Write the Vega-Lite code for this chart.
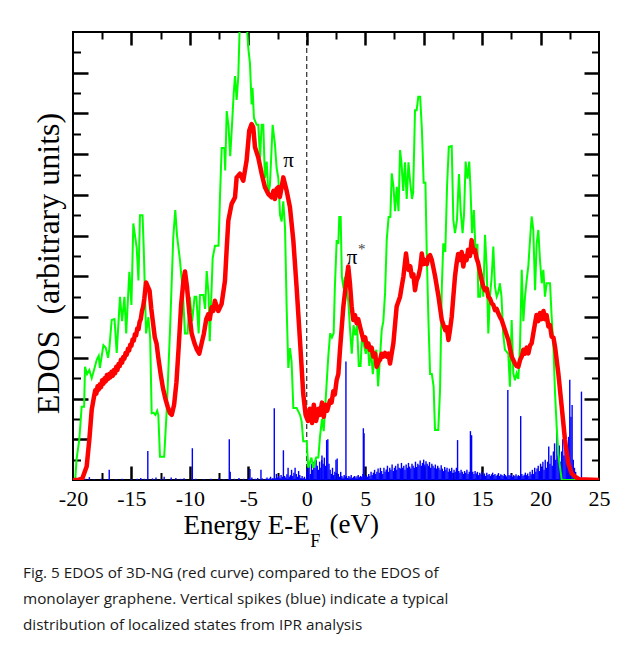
{
  "$schema": "https://vega.github.io/schema/vega-lite/v6.json",
  "width": 526,
  "height": 448,
  "autosize": {"type": "none"},
  "padding": {"left": 73, "top": 32, "right": 27, "bottom": 169},
  "background": "white",
  "config": {
    "view": {"stroke": "black", "strokeWidth": 2},
    "axis": {"grid": false, "domain": false, "tickColor": "black", "labelFont": "Liberation Serif", "titleFont": "Liberation Serif", "labelColor": "black", "titleColor": "black", "titleFontWeight": "normal"}
  },
  "title": {
    "text": ["Fig. 5 EDOS of 3D-NG (red curve) compared to the EDOS of", "monolayer graphene. Vertical spikes (blue) indicate a typical", "distribution of localized states from IPR analysis"],
    "orient": "bottom", "anchor": "start", "frame": "group", "font": "Open Sans", "fontSize": 15.3, "fontWeight": "normal", "color": "#1a1a1a", "lineHeight": 26, "baseline": "top", "dx": -50, "offset": 15
  },
  "datasets": {
    "green": [
      {"x":-20.0,"y":0},{"x":-19.8,"y":0.05},{"x":-19.7,"y":0.5},{"x":-19.46,"y":1.0},{"x":-19.26,"y":1.8},{"x":-19.05,"y":1.8},{"x":-18.97,"y":2.78},{"x":-18.8,"y":2.6},{"x":-18.6,"y":2.7},{"x":-18.4,"y":2.5},{"x":-18.2,"y":2.7},{"x":-17.97,"y":2.95},{"x":-17.8,"y":3.05},{"x":-17.7,"y":2.75},{"x":-17.4,"y":3.31},{"x":-17.2,"y":3.25},{"x":-17.0,"y":3.0},{"x":-16.9,"y":3.2},{"x":-16.69,"y":3.93},{"x":-16.45,"y":3.95},{"x":-16.26,"y":3.12},{"x":-15.98,"y":4.5},{"x":-15.8,"y":3.9},{"x":-15.6,"y":4.5},{"x":-15.45,"y":3.6},{"x":-15.18,"y":5.11},{"x":-15.0,"y":4.3},{"x":-14.84,"y":6.3},{"x":-14.55,"y":5.7},{"x":-14.4,"y":4.9},{"x":-14.27,"y":6.5},{"x":-14.05,"y":6.5},{"x":-13.95,"y":5.7},{"x":-13.75,"y":3.6},{"x":-13.55,"y":4.0},{"x":-13.4,"y":3.5},{"x":-13.27,"y":1.64},{"x":-13.1,"y":1.65},{"x":-12.95,"y":1.6},{"x":-12.8,"y":1.7},{"x":-12.7,"y":1.6},{"x":-12.56,"y":0.57},{"x":-12.2,"y":0.57},{"x":-11.98,"y":1.72},{"x":-11.7,"y":3.68},{"x":-11.42,"y":5.97},{"x":-11.25,"y":6.63},{"x":-11.1,"y":6.0},{"x":-10.85,"y":5.4},{"x":-10.6,"y":4.6},{"x":-10.42,"y":3.6},{"x":-10.2,"y":3.6},{"x":-10.0,"y":4.5},{"x":-9.8,"y":3.9},{"x":-9.6,"y":4.5},{"x":-9.45,"y":4.5},{"x":-9.25,"y":3.6},{"x":-9.14,"y":4.54},{"x":-8.85,"y":4.54},{"x":-8.7,"y":4.2},{"x":-8.56,"y":5.13},{"x":-8.4,"y":4.54},{"x":-8.3,"y":3.41},{"x":-8.05,"y":5.45},{"x":-7.85,"y":5.75},{"x":-7.55,"y":5.75},{"x":-7.42,"y":7.0},{"x":-7.28,"y":8.15},{"x":-7.05,"y":8.15},{"x":-6.98,"y":7.6},{"x":-6.85,"y":9.06},{"x":-6.7,"y":8.7},{"x":-6.55,"y":7.95},{"x":-6.4,"y":8.7},{"x":-6.25,"y":9.5},{"x":-6.14,"y":9.92},{"x":-6.0,"y":9.33},{"x":-5.86,"y":9.9},{"x":-5.72,"y":11.3},{"x":-5.3,"y":11.1},{"x":-5.15,"y":11.3},{"x":-5.0,"y":10.6},{"x":-4.86,"y":10.23},{"x":-4.72,"y":9.22},{"x":-4.64,"y":9.63},{"x":-4.52,"y":8.89},{"x":-4.29,"y":8.72},{"x":-4.15,"y":8.72},{"x":-4.0,"y":7.9},{"x":-3.86,"y":8.72},{"x":-3.72,"y":8.72},{"x":-3.58,"y":7.41},{"x":-3.43,"y":7.82},{"x":-3.29,"y":7.0},{"x":-3.15,"y":7.25},{"x":-2.92,"y":8.72},{"x":-2.72,"y":8.23},{"x":-2.58,"y":7.66},{"x":-2.43,"y":7.41},{"x":-2.29,"y":6.51},{"x":-2.15,"y":6.35},{"x":-2.01,"y":6.84},{"x":-1.86,"y":6.19},{"x":-1.72,"y":4.22},{"x":-1.58,"y":2.75},{"x":-1.44,"y":3.24},{"x":-1.3,"y":2.91},{"x":-1.15,"y":1.77},{"x":-0.87,"y":1.77},{"x":-0.58,"y":1.6},{"x":-0.44,"y":1.44},{"x":-0.3,"y":0.95},{"x":-0.01,"y":0.95},{"x":0.13,"y":0.3},{"x":0.4,"y":0.55},{"x":0.55,"y":0.3},{"x":0.8,"y":0.55},{"x":0.99,"y":0.55},{"x":1.13,"y":1.06},{"x":1.3,"y":1.5},{"x":1.45,"y":1.2},{"x":1.6,"y":1.9},{"x":1.84,"y":3.03},{"x":2.0,"y":3.6},{"x":2.15,"y":3.5},{"x":2.3,"y":3.6},{"x":2.4,"y":4.7},{"x":2.56,"y":5.89},{"x":2.7,"y":5.8},{"x":2.78,"y":6.46},{"x":2.9,"y":6.46},{"x":3.0,"y":5.0},{"x":3.15,"y":4.7},{"x":3.27,"y":4.99},{"x":3.4,"y":4.7},{"x":3.55,"y":4.4},{"x":3.7,"y":3.7},{"x":3.85,"y":3.1},{"x":4.0,"y":3.8},{"x":4.15,"y":3.55},{"x":4.3,"y":3.8},{"x":4.45,"y":2.8},{"x":4.6,"y":2.8},{"x":4.75,"y":3.65},{"x":4.9,"y":3.3},{"x":5.05,"y":3.1},{"x":5.2,"y":3.4},{"x":5.35,"y":2.8},{"x":5.5,"y":3.2},{"x":5.65,"y":2.6},{"x":5.8,"y":3.0},{"x":5.95,"y":3.2},{"x":6.1,"y":2.3},{"x":6.25,"y":2.95},{"x":6.41,"y":3.68},{"x":6.55,"y":3.9},{"x":6.7,"y":4.6},{"x":6.84,"y":5.89},{"x":7.0,"y":6.46},{"x":7.15,"y":6.46},{"x":7.27,"y":7.53},{"x":7.42,"y":7.2},{"x":7.55,"y":6.6},{"x":7.7,"y":7.2},{"x":7.85,"y":6.6},{"x":7.98,"y":8.1},{"x":8.1,"y":7.8},{"x":8.25,"y":7.1},{"x":8.4,"y":7.8},{"x":8.55,"y":6.9},{"x":8.7,"y":7.8},{"x":8.85,"y":7.3},{"x":9.0,"y":6.9},{"x":9.1,"y":7.05},{"x":9.26,"y":9.08},{"x":9.4,"y":9.08},{"x":9.54,"y":9.41},{"x":9.7,"y":9.41},{"x":9.85,"y":8.6},{"x":10.0,"y":7.3},{"x":10.15,"y":7.3},{"x":10.26,"y":5.65},{"x":10.4,"y":4.0},{"x":10.55,"y":2.6},{"x":10.7,"y":2.6},{"x":10.85,"y":2.3},{"x":10.97,"y":1.23},{"x":11.25,"y":1.23},{"x":11.4,"y":2.2},{"x":11.55,"y":4.7},{"x":11.68,"y":5.81},{"x":11.85,"y":5.6},{"x":12.0,"y":7.2},{"x":12.15,"y":8.18},{"x":12.4,"y":8.2},{"x":12.54,"y":6.38},{"x":12.68,"y":6.06},{"x":12.85,"y":6.38},{"x":13.02,"y":7.51},{"x":13.16,"y":6.63},{"x":13.33,"y":6.06},{"x":13.45,"y":6.5},{"x":13.59,"y":7.82},{"x":13.75,"y":7.4},{"x":13.9,"y":7.82},{"x":14.0,"y":7.2},{"x":14.14,"y":6.06},{"x":14.3,"y":6.63},{"x":14.45,"y":5.5},{"x":14.6,"y":5.8},{"x":14.67,"y":4.5},{"x":14.82,"y":4.5},{"x":14.96,"y":5.07},{"x":15.1,"y":4.5},{"x":15.25,"y":6.02},{"x":15.39,"y":5.24},{"x":15.53,"y":3.6},{"x":15.67,"y":4.5},{"x":15.82,"y":4.99},{"x":15.96,"y":5.73},{"x":16.1,"y":4.75},{"x":16.25,"y":4.5},{"x":16.38,"y":4.6},{"x":16.52,"y":4.83},{"x":16.66,"y":4.5},{"x":16.8,"y":3.6},{"x":16.95,"y":3.2},{"x":17.09,"y":3.15},{"x":17.24,"y":3.1},{"x":17.38,"y":2.29},{"x":17.53,"y":3.93},{"x":17.67,"y":2.62},{"x":17.81,"y":2.45},{"x":17.95,"y":2.62},{"x":18.1,"y":2.48},{"x":18.24,"y":3.27},{"x":18.39,"y":5.16},{"x":18.53,"y":3.9},{"x":18.67,"y":4.5},{"x":18.81,"y":4.9},{"x":18.96,"y":5.27},{"x":19.1,"y":5.9},{"x":19.24,"y":6.47},{"x":19.38,"y":6.14},{"x":19.53,"y":4.66},{"x":19.67,"y":5.81},{"x":19.81,"y":6.14},{"x":19.95,"y":5.4},{"x":20.1,"y":4.83},{"x":20.24,"y":5.16},{"x":20.38,"y":4.5},{"x":20.52,"y":4.83},{"x":20.66,"y":4.83},{"x":20.81,"y":4.83},{"x":20.95,"y":4.01},{"x":21.1,"y":3.27},{"x":21.24,"y":2.13},{"x":21.38,"y":1.31},{"x":21.52,"y":0.65},{"x":21.66,"y":0.33},{"x":21.81,"y":0.0},{"x":23.1,"y":0.0}
    ],
    "red": [
      {"x":-20.0,"y":0},{"x":-19.6,"y":0},{"x":-19.2,"y":0.04},{"x":-18.83,"y":0.33},{"x":-18.6,"y":1.0},{"x":-18.4,"y":1.72},{"x":-18.2,"y":2.05},{"x":-18.1,"y":2.2},{"x":-18.0,"y":2.12},{"x":-17.9,"y":2.3},{"x":-17.8,"y":2.22},{"x":-17.7,"y":2.35},{"x":-17.6,"y":2.28},{"x":-17.5,"y":2.45},{"x":-17.4,"y":2.36},{"x":-17.3,"y":2.5},{"x":-17.2,"y":2.42},{"x":-17.1,"y":2.58},{"x":-17.0,"y":2.48},{"x":-16.9,"y":2.6},{"x":-16.8,"y":2.52},{"x":-16.7,"y":2.66},{"x":-16.6,"y":2.56},{"x":-16.5,"y":2.7},{"x":-16.4,"y":2.62},{"x":-16.3,"y":2.78},{"x":-16.2,"y":2.7},{"x":-16.1,"y":2.85},{"x":-16.0,"y":2.8},{"x":-15.9,"y":2.95},{"x":-15.8,"y":2.88},{"x":-15.7,"y":3.02},{"x":-15.6,"y":2.98},{"x":-15.5,"y":3.12},{"x":-15.4,"y":3.08},{"x":-15.3,"y":3.22},{"x":-15.2,"y":3.18},{"x":-15.1,"y":3.32},{"x":-15.0,"y":3.3},{"x":-14.9,"y":3.45},{"x":-14.8,"y":3.42},{"x":-14.7,"y":3.58},{"x":-14.6,"y":3.55},{"x":-14.5,"y":3.72},{"x":-14.4,"y":3.7},{"x":-14.3,"y":3.88},{"x":-14.2,"y":3.95},{"x":-14.1,"y":4.15},{"x":-14.0,"y":4.25},{"x":-13.9,"y":4.45},{"x":-13.75,"y":4.85},{"x":-13.6,"y":4.75},{"x":-13.45,"y":4.65},{"x":-13.3,"y":4.2},{"x":-13.15,"y":3.85},{"x":-13.0,"y":3.5},{"x":-12.85,"y":3.35},{"x":-12.7,"y":3.0},{"x":-12.5,"y":2.6},{"x":-12.3,"y":2.25},{"x":-12.1,"y":2.0},{"x":-11.9,"y":1.8},{"x":-11.7,"y":1.64},{"x":-11.55,"y":1.6},{"x":-11.35,"y":1.85},{"x":-11.15,"y":2.4},{"x":-10.95,"y":3.3},{"x":-10.75,"y":4.3},{"x":-10.55,"y":4.9},{"x":-10.42,"y":5.12},{"x":-10.25,"y":4.75},{"x":-10.05,"y":4.1},{"x":-9.85,"y":3.6},{"x":-9.6,"y":3.35},{"x":-9.4,"y":3.2},{"x":-9.2,"y":3.1},{"x":-9.0,"y":3.35},{"x":-8.8,"y":3.6},{"x":-8.6,"y":3.95},{"x":-8.43,"y":4.07},{"x":-8.3,"y":3.95},{"x":-8.14,"y":4.24},{"x":-8.0,"y":4.15},{"x":-7.86,"y":4.4},{"x":-7.7,"y":4.25},{"x":-7.57,"y":4.15},{"x":-7.29,"y":4.32},{"x":-7.0,"y":4.89},{"x":-6.86,"y":5.63},{"x":-6.71,"y":6.37},{"x":-6.43,"y":6.78},{"x":-6.14,"y":6.94},{"x":-6.0,"y":7.43},{"x":-5.72,"y":7.52},{"x":-5.43,"y":7.35},{"x":-5.15,"y":7.84},{"x":-4.92,"y":8.58},{"x":-4.72,"y":8.74},{"x":-4.58,"y":8.66},{"x":-4.43,"y":8.17},{"x":-4.15,"y":7.92},{"x":-3.86,"y":7.52},{"x":-3.58,"y":7.19},{"x":-3.29,"y":7.02},{"x":-3.0,"y":6.94},{"x":-2.85,"y":7.1},{"x":-2.72,"y":6.9},{"x":-2.58,"y":7.15},{"x":-2.43,"y":7.19},{"x":-2.3,"y":6.95},{"x":-2.15,"y":7.19},{"x":-2.01,"y":7.43},{"x":-1.72,"y":7.1},{"x":-1.44,"y":6.7},{"x":-1.15,"y":5.88},{"x":-0.87,"y":4.73},{"x":-0.58,"y":3.42},{"x":-0.3,"y":2.11},{"x":-0.1,"y":1.6},{"x":0.1,"y":1.45},{"x":0.27,"y":1.75},{"x":0.45,"y":1.4},{"x":0.6,"y":1.85},{"x":0.8,"y":1.45},{"x":1.0,"y":1.75},{"x":1.13,"y":1.6},{"x":1.3,"y":1.9},{"x":1.45,"y":1.55},{"x":1.6,"y":1.85},{"x":1.75,"y":1.7},{"x":1.98,"y":1.95},{"x":2.12,"y":1.9},{"x":2.27,"y":2.18},{"x":2.4,"y":2.1},{"x":2.56,"y":2.46},{"x":2.7,"y":2.6},{"x":2.84,"y":3.19},{"x":3.13,"y":4.26},{"x":3.36,"y":4.83},{"x":3.55,"y":5.24},{"x":3.69,"y":4.83},{"x":3.84,"y":4.26},{"x":3.98,"y":3.93},{"x":4.12,"y":4.05},{"x":4.27,"y":3.85},{"x":4.4,"y":3.95},{"x":4.55,"y":3.77},{"x":4.7,"y":3.6},{"x":4.84,"y":3.44},{"x":5.0,"y":3.5},{"x":5.12,"y":3.27},{"x":5.27,"y":3.35},{"x":5.41,"y":3.19},{"x":5.55,"y":3.25},{"x":5.69,"y":3.03},{"x":5.85,"y":3.1},{"x":5.98,"y":2.78},{"x":6.12,"y":2.9},{"x":6.27,"y":2.95},{"x":6.4,"y":3.1},{"x":6.55,"y":3.03},{"x":6.7,"y":3.12},{"x":6.84,"y":3.03},{"x":7.0,"y":3.1},{"x":7.12,"y":2.86},{"x":7.41,"y":3.36},{"x":7.69,"y":4.26},{"x":7.98,"y":4.5},{"x":8.12,"y":4.75},{"x":8.27,"y":5.0},{"x":8.49,"y":5.56},{"x":8.6,"y":5.3},{"x":8.7,"y":5.16},{"x":8.85,"y":5.25},{"x":8.98,"y":5.0},{"x":9.12,"y":5.05},{"x":9.26,"y":4.66},{"x":9.4,"y":4.9},{"x":9.55,"y":5.0},{"x":9.7,"y":5.2},{"x":9.84,"y":5.56},{"x":9.98,"y":5.3},{"x":10.12,"y":5.4},{"x":10.27,"y":5.3},{"x":10.41,"y":5.48},{"x":10.55,"y":5.52},{"x":10.7,"y":5.4},{"x":10.98,"y":5.0},{"x":11.27,"y":4.5},{"x":11.55,"y":3.93},{"x":11.7,"y":3.8},{"x":11.84,"y":3.68},{"x":11.98,"y":3.75},{"x":12.12,"y":3.44},{"x":12.26,"y":3.7},{"x":12.4,"y":4.01},{"x":12.68,"y":5.0},{"x":12.82,"y":5.32},{"x":12.95,"y":5.55},{"x":13.1,"y":5.4},{"x":13.25,"y":5.6},{"x":13.39,"y":5.24},{"x":13.53,"y":5.5},{"x":13.67,"y":5.4},{"x":13.8,"y":5.65},{"x":13.96,"y":5.5},{"x":14.1,"y":5.89},{"x":14.25,"y":5.6},{"x":14.39,"y":5.65},{"x":14.52,"y":5.45},{"x":14.67,"y":5.32},{"x":14.96,"y":4.91},{"x":15.1,"y":4.75},{"x":15.25,"y":4.66},{"x":15.4,"y":4.7},{"x":15.53,"y":4.5},{"x":15.68,"y":4.45},{"x":15.82,"y":4.34},{"x":15.96,"y":4.3},{"x":16.1,"y":4.17},{"x":16.25,"y":4.2},{"x":16.39,"y":4.09},{"x":16.53,"y":4.0},{"x":16.67,"y":3.93},{"x":16.96,"y":3.68},{"x":17.24,"y":3.44},{"x":17.53,"y":3.03},{"x":17.81,"y":2.86},{"x":17.95,"y":2.8},{"x":18.1,"y":2.78},{"x":18.25,"y":2.95},{"x":18.39,"y":3.03},{"x":18.53,"y":3.2},{"x":18.67,"y":3.1},{"x":18.81,"y":3.25},{"x":18.96,"y":3.11},{"x":19.1,"y":3.3},{"x":19.24,"y":3.36},{"x":19.38,"y":3.6},{"x":19.53,"y":3.85},{"x":19.65,"y":4.05},{"x":19.81,"y":3.9},{"x":19.95,"y":4.1},{"x":20.1,"y":3.95},{"x":20.25,"y":4.15},{"x":20.38,"y":3.95},{"x":20.52,"y":4.05},{"x":20.67,"y":3.77},{"x":20.81,"y":3.8},{"x":20.95,"y":3.52},{"x":21.1,"y":3.5},{"x":21.24,"y":3.27},{"x":21.52,"y":2.62},{"x":21.81,"y":1.8},{"x":22.09,"y":0.98},{"x":22.37,"y":0.41},{"x":22.66,"y":0.16},{"x":22.95,"y":0.08},{"x":23.3,"y":0.02},{"x":25.0,"y":0}
    ],
    "blue": [
      {"x":-19.5,"y":0.02},{"x":-18.9,"y":0.03},{"x":-18.6,"y":0.07},{"x":-18.2,"y":0.02},{"x":-17.6,"y":0.03},{"x":-17.2,"y":0.02},{"x":-16.9,"y":0.25},{"x":-16.3,"y":0.02},{"x":-15.8,"y":0.03},{"x":-15.0,"y":0.02},{"x":-14.5,"y":0.03},{"x":-14.2,"y":0.05},{"x":-13.9,"y":0.03},{"x":-13.6,"y":0.71},{"x":-13.2,"y":0.04},{"x":-12.9,"y":0.06},{"x":-12.5,"y":0.02},{"x":-12.2,"y":0.08},{"x":-11.6,"y":0.06},{"x":-11.2,"y":0.05},{"x":-10.8,"y":0.03},{"x":-10.5,"y":0.04},{"x":-9.79,"y":0.78},{"x":-9.5,"y":0.03},{"x":-8.8,"y":0.02},{"x":-8.2,"y":0.03},{"x":-7.5,"y":0.04},{"x":-7.1,"y":0.02},{"x":-6.63,"y":1.0},{"x":-6.55,"y":0.2},{"x":-6.2,"y":0.03},{"x":-5.8,"y":0.05},{"x":-5.4,"y":0.03},{"x":-5.0,"y":0.04},{"x":-4.86,"y":0.27},{"x":-4.7,"y":0.06},{"x":-4.4,"y":0.03},{"x":-4.2,"y":0.05},{"x":-3.92,"y":0.25},{"x":-3.8,"y":0.04},
      {"x":-3.5,"y":0.03},{"x":-3.4,"y":0.06},{"x":-3.3,"y":0.02},{"x":-3.2,"y":0.04},{"x":-3.1,"y":0.08},{"x":-3.0,"y":0.03},{"x":-2.9,"y":0.05},{"x":-2.78,"y":1.76},{"x":-2.7,"y":0.04},{"x":-2.6,"y":0.15},{"x":-2.5,"y":0.06},{"x":-2.4,"y":0.1},{"x":-2.3,"y":0.05},{"x":-2.2,"y":0.12},{"x":-2.1,"y":0.08},{"x":-2.0,"y":0.73},{"x":-1.9,"y":0.1},{"x":-1.8,"y":0.06},{"x":-1.7,"y":0.14},{"x":-1.6,"y":0.3},{"x":-1.5,"y":0.08},{"x":-1.4,"y":0.12},{"x":-1.3,"y":0.25},{"x":-1.2,"y":0.1},{"x":-1.1,"y":0.18},{"x":-1.0,"y":0.3},{"x":-0.9,"y":0.15},{"x":-0.8,"y":0.08},{"x":-0.7,"y":0.22},{"x":-0.6,"y":0.12},{"x":-0.5,"y":0.05},{"x":-0.4,"y":0.1},{"x":-0.3,"y":0.04},{"x":-0.2,"y":0.08},{"x":-0.1,"y":0.03},
      {"x":0.0,"y":0.3},{"x":0.1,"y":0.2},{"x":0.2,"y":0.35},{"x":0.3,"y":0.15},{"x":0.4,"y":0.4},{"x":0.5,"y":0.25},{"x":0.6,"y":0.45},{"x":0.7,"y":0.3},{"x":0.8,"y":0.5},{"x":0.9,"y":0.35},{"x":1.0,"y":0.25},{"x":1.1,"y":0.45},{"x":1.2,"y":0.3},{"x":1.28,"y":0.49},{"x":1.3,"y":0.6},{"x":1.4,"y":0.4},{"x":1.5,"y":0.55},{"x":1.6,"y":0.35},{"x":1.7,"y":0.98},{"x":1.8,"y":1.0},{"x":1.9,"y":0.4},{"x":2.0,"y":0.25},{"x":2.1,"y":0.15},{"x":2.2,"y":0.3},{"x":2.3,"y":0.12},{"x":2.4,"y":0.2},{"x":2.5,"y":0.5},{"x":2.6,"y":0.53},{"x":2.7,"y":0.15},{"x":2.8,"y":0.08},{"x":2.9,"y":0.2},{"x":3.0,"y":0.1},{"x":3.1,"y":0.06},{"x":3.2,"y":0.12},{"x":3.3,"y":0.08},{"x":3.35,"y":2.91},{"x":3.4,"y":0.1},{"x":3.5,"y":0.05},{"x":3.6,"y":0.1},{"x":3.7,"y":0.07},{"x":3.8,"y":0.12},{"x":3.9,"y":0.05},{"x":4.0,"y":0.08},{"x":4.1,"y":0.1},{"x":4.2,"y":0.06},{"x":4.3,"y":0.09},{"x":4.4,"y":0.12},{"x":4.5,"y":0.07},{"x":4.6,"y":0.1},{"x":4.7,"y":0.08},{"x":4.8,"y":0.15},{"x":4.84,"y":1.27},{"x":4.9,"y":1.15},{"x":5.0,"y":0.1},{"x":5.1,"y":0.12},{"x":5.2,"y":0.08},{"x":5.3,"y":0.15},{"x":5.4,"y":0.1},{"x":5.5,"y":0.2},{"x":5.6,"y":0.12},{"x":5.7,"y":0.18},{"x":5.8,"y":0.25},{"x":5.9,"y":0.15},{"x":6.0,"y":0.2},{"x":6.1,"y":0.28},{"x":6.2,"y":0.18},{"x":6.3,"y":0.3},{"x":6.4,"y":0.22},{"x":6.5,"y":0.15},{"x":6.6,"y":0.3},{"x":6.7,"y":0.2},{"x":6.8,"y":0.26},{"x":6.9,"y":0.35},{"x":7.0,"y":0.2},{"x":7.1,"y":0.3},{"x":7.2,"y":0.25},{"x":7.3,"y":0.38},{"x":7.4,"y":0.22},{"x":7.5,"y":0.3},{"x":7.6,"y":0.35},{"x":7.7,"y":0.25},{"x":7.8,"y":0.4},{"x":7.9,"y":0.3},{"x":8.0,"y":0.28},{"x":8.1,"y":0.42},{"x":8.2,"y":0.3},{"x":8.3,"y":0.35},{"x":8.4,"y":0.25},{"x":8.5,"y":0.38},{"x":8.6,"y":0.3},{"x":8.7,"y":0.42},{"x":8.8,"y":0.33},{"x":8.9,"y":0.28},{"x":9.0,"y":0.4},{"x":9.1,"y":0.35},{"x":9.2,"y":0.3},{"x":9.3,"y":0.45},{"x":9.4,"y":0.32},{"x":9.5,"y":0.4},{"x":9.6,"y":0.36},{"x":9.7,"y":0.48},{"x":9.8,"y":0.35},{"x":9.9,"y":0.42},{"x":10.0,"y":0.5},{"x":10.1,"y":0.38},{"x":10.2,"y":0.46},{"x":10.3,"y":0.4},{"x":10.4,"y":0.35},{"x":10.5,"y":0.44},{"x":10.6,"y":0.3},{"x":10.7,"y":0.4},{"x":10.8,"y":0.35},{"x":10.9,"y":0.3},{"x":11.0,"y":0.38},{"x":11.1,"y":0.28},{"x":11.2,"y":0.35},{"x":11.3,"y":0.3},{"x":11.4,"y":0.25},{"x":11.5,"y":0.36},{"x":11.6,"y":0.28},{"x":11.7,"y":0.22},{"x":11.8,"y":0.32},{"x":11.9,"y":0.25},{"x":12.0,"y":0.3},{"x":12.1,"y":0.2},{"x":12.2,"y":0.28},{"x":12.3,"y":0.22},{"x":12.4,"y":0.3},{"x":12.5,"y":0.18},{"x":12.6,"y":0.25},{"x":12.7,"y":0.2},{"x":12.8,"y":0.3},{"x":12.9,"y":0.98},{"x":13.0,"y":0.22},{"x":13.1,"y":0.18},{"x":13.2,"y":0.25},{"x":13.3,"y":0.2},{"x":13.4,"y":0.15},{"x":13.5,"y":0.22},{"x":13.6,"y":0.18},{"x":13.7,"y":0.25},{"x":13.8,"y":0.15},{"x":13.9,"y":0.2},{"x":14.0,"y":1.2},{"x":14.1,"y":1.1},{"x":14.2,"y":0.2},{"x":14.3,"y":0.15},{"x":14.4,"y":0.22},{"x":14.5,"y":0.16},{"x":14.6,"y":0.2},{"x":14.7,"y":0.12},{"x":14.8,"y":0.18},{"x":14.9,"y":0.14},{"x":15.0,"y":0.2},{"x":15.1,"y":0.12},{"x":15.2,"y":0.16},{"x":15.3,"y":0.1},{"x":15.4,"y":0.18},{"x":15.5,"y":0.12},{"x":15.6,"y":0.15},{"x":15.7,"y":0.1},{"x":15.8,"y":0.14},{"x":15.9,"y":0.18},{"x":16.0,"y":0.12},{"x":16.1,"y":0.15},{"x":16.2,"y":0.1},{"x":16.3,"y":0.13},{"x":16.4,"y":0.17},{"x":16.5,"y":0.1},{"x":16.6,"y":0.14},{"x":16.7,"y":0.12},{"x":16.8,"y":0.1},{"x":16.9,"y":0.15},{"x":17.0,"y":0.12},{"x":17.1,"y":0.09},{"x":17.2,"y":2.21},{"x":17.3,"y":0.12},{"x":17.4,"y":0.1},{"x":17.5,"y":0.15},{"x":17.6,"y":0.08},{"x":17.7,"y":0.12},{"x":17.8,"y":0.1},{"x":17.9,"y":0.14},{"x":18.0,"y":0.09},{"x":18.1,"y":0.12},{"x":18.2,"y":0.1},{"x":18.3,"y":1.57},{"x":18.4,"y":0.15},{"x":18.5,"y":0.1},{"x":18.6,"y":0.13},{"x":18.7,"y":0.18},{"x":18.8,"y":0.12},{"x":18.9,"y":0.16},{"x":19.0,"y":0.1},{"x":19.1,"y":0.2},{"x":19.2,"y":0.14},{"x":19.3,"y":0.25},{"x":19.4,"y":0.15},{"x":19.5,"y":0.3},{"x":19.6,"y":0.2},{"x":19.7,"y":0.28},{"x":19.8,"y":0.35},{"x":19.9,"y":0.22},{"x":20.0,"y":0.4},{"x":20.1,"y":0.3},{"x":20.2,"y":0.45},{"x":20.3,"y":0.25},{"x":20.4,"y":0.5},{"x":20.5,"y":0.3},{"x":20.6,"y":0.45},{"x":20.7,"y":0.82},{"x":20.8,"y":0.4},{"x":20.9,"y":0.6},{"x":21.0,"y":0.35},{"x":21.1,"y":0.7},{"x":21.2,"y":0.9},{"x":21.3,"y":0.5},{"x":21.4,"y":1.2},{"x":21.5,"y":0.6},{"x":21.6,"y":0.85},{"x":21.7,"y":0.45},{"x":21.8,"y":0.7},{"x":21.9,"y":1.0},{"x":22.0,"y":0.6},{"x":22.1,"y":1.23},{"x":22.2,"y":0.8},{"x":22.3,"y":0.5},{"x":22.4,"y":1.06},{"x":22.5,"y":2.46},{"x":22.6,"y":1.55},{"x":22.7,"y":1.84},{"x":22.8,"y":0.5},{"x":22.9,"y":0.3},{"x":23.0,"y":0.2},{"x":23.1,"y":0.1},{"x":23.2,"y":0.05},{"x":23.3,"y":0.03},{"x":23.5,"y":2.17}
    ],
    "pi": [{"x": -1.55, "y": 7.69, "t": "π"}, {"x": 3.87, "y": 5.3, "t": "π"}],
    "star": [{"x": 4.7, "y": 5.56, "t": "*"}]
  },
  "resolve": {"axis": {"x": "independent", "y": "independent"}},
  "layer": [
    {
      "data": {"values": [{"t": "EF"}]},
      "mark": {"type": "rule", "stroke": "black", "strokeWidth": 1, "strokeDash": [5, 3]},
      "encoding": {
        "x": {"datum": 0, "type": "quantitative", "scale": {"domain": [-20, 25], "nice": false, "zero": false}, "axis": null}
      }
    },
    {
      "data": {"name": "blue"},
      "mark": {"type": "rule", "stroke": "#0000ff", "strokeWidth": 1.4, "clip": true},
      "encoding": {
        "x": {"field": "x", "type": "quantitative", "scale": {"domain": [-20, 25], "nice": false, "zero": false},
              "axis": {"orient": "bottom", "values": [-17.5, -12.5, -7.5, -2.5, 2.5, 7.5, 12.5, 17.5, 22.5], "labels": false, "tickSize": -7.5, "tickWidth": 2, "title": null}},
        "y": {"field": "y", "type": "quantitative", "scale": {"domain": [0, 11], "nice": false, "zero": false},
              "axis": {"orient": "right", "values": [1, 2, 3, 4, 5, 6, 7, 8, 9, 10], "labels": false, "tickSize": -15, "tickWidth": 2.5, "title": null}},
        "y2": {"datum": 0}
      }
    },
    {
      "data": {"name": "green"},
      "mark": {"type": "line", "stroke": "#00ff00", "strokeWidth": 2, "clip": true},
      "encoding": {
        "x": {"field": "x", "type": "quantitative", "scale": {"domain": [-20, 25], "nice": false, "zero": false},
              "axis": {"orient": "bottom", "values": [-20, -15, -10, -5, 0, 5, 10, 15, 20, 25], "ticks": false, "labelFontSize": 22, "labelPadding": 25, "labelBaseline": "alphabetic", "labelExpr": "'' + datum.value", "labelFlush": false, "labelOverlap": false,
                       "title": "Energy E-E", "titleFontSize": 27, "titleX": 110, "titleY": 53, "titleAlign": "left", "titleBaseline": "alphabetic"}},
        "y": {"field": "y", "type": "quantitative", "scale": {"domain": [0, 11], "nice": false, "zero": false},
              "axis": {"orient": "left", "values": [1, 2, 3, 4, 5, 6, 7, 8, 9, 10], "labels": false, "tickSize": -15, "tickWidth": 2.5,
                       "title": "EDOS\u00a0\u00a0(arbitrary units)", "titleFontSize": 32, "titleX": -15, "titleY": 231, "titleAlign": "center", "titleBaseline": "alphabetic", "titleAngle": 270}}
      }
    },
    {
      "data": {"name": "red"},
      "mark": {"type": "line", "stroke": "#ff0000", "strokeWidth": 4.5, "clip": true, "strokeJoin": "round"},
      "encoding": {
        "x": {"field": "x", "type": "quantitative", "scale": {"domain": [-20, 25], "nice": false, "zero": false},
              "axis": {"orient": "bottom", "values": [-15, -10, -5, 0, 5, 10, 15, 20], "labels": false, "tickSize": -14, "tickWidth": 2.5, "title": null}},
        "y": {"field": "y", "type": "quantitative", "scale": {"domain": [0, 11], "nice": false, "zero": false},
              "axis": {"orient": "left", "values": [0.5, 1.5, 2.5, 3.5, 4.5, 5.5, 6.5, 7.5, 8.5, 9.5, 10.5], "labels": false, "tickSize": -7.5, "tickWidth": 2, "title": null}}
      }
    },
    {
      "data": {"name": "pi"},
      "mark": {"type": "text", "font": "Liberation Serif", "fontSize": 21, "align": "center", "baseline": "alphabetic", "color": "black"},
      "encoding": {
        "x": {"field": "x", "type": "quantitative", "scale": {"domain": [-20, 25], "nice": false, "zero": false},
              "axis": {"orient": "top", "values": [-15, -10, -5, 0, 5, 10, 15, 20], "labels": false, "tickSize": -13, "tickWidth": 2.5, "title": null}},
        "y": {"field": "y", "type": "quantitative", "scale": {"domain": [0, 11], "nice": false, "zero": false},
              "axis": {"orient": "right", "values": [0.5, 1.5, 2.5, 3.5, 4.5, 5.5, 6.5, 7.5, 8.5, 9.5, 10.5], "labels": false, "tickSize": -7.5, "tickWidth": 2, "title": null}},
        "text": {"field": "t"}
      }
    },
    {
      "data": {"name": "star"},
      "mark": {"type": "text", "font": "Liberation Serif", "fontSize": 15, "align": "center", "baseline": "alphabetic", "color": "#444444"},
      "encoding": {
        "x": {"field": "x", "type": "quantitative", "scale": {"domain": [-20, 25], "nice": false, "zero": false},
              "axis": {"orient": "top", "values": [-17.5, -12.5, -7.5, -2.5, 2.5, 7.5, 12.5, 17.5, 22.5], "labels": false, "tickSize": -7, "tickWidth": 2, "title": null}},
        "y": {"field": "y", "type": "quantitative", "scale": {"domain": [0, 11], "nice": false, "zero": false}, "axis": null},
        "text": {"field": "t"}
      }
    },
    {
      "data": {"values": [{"t": "F"}]},
      "mark": {"type": "text", "font": "Liberation Serif", "fontSize": 18, "align": "left", "baseline": "alphabetic", "color": "black", "clip": false},
      "encoding": {
        "x": {"datum": 0.3, "type": "quantitative", "scale": {"domain": [-20, 25], "nice": false, "zero": false}, "axis": null},
        "y": {"datum": -1.645, "type": "quantitative", "scale": {"domain": [0, 11], "nice": false, "zero": false}, "axis": null},
        "text": {"field": "t"}
      }
    },
    {
      "data": {"values": [{"t": "(eV)"}]},
      "mark": {"type": "text", "font": "Liberation Serif", "fontSize": 27, "align": "left", "baseline": "alphabetic", "color": "black", "clip": false},
      "encoding": {
        "x": {"datum": 1.95, "type": "quantitative", "scale": {"domain": [-20, 25], "nice": false, "zero": false}, "axis": null},
        "y": {"datum": -1.3, "type": "quantitative", "scale": {"domain": [0, 11], "nice": false, "zero": false}, "axis": null},
        "text": {"field": "t"}
      }
    }
  ]
}
